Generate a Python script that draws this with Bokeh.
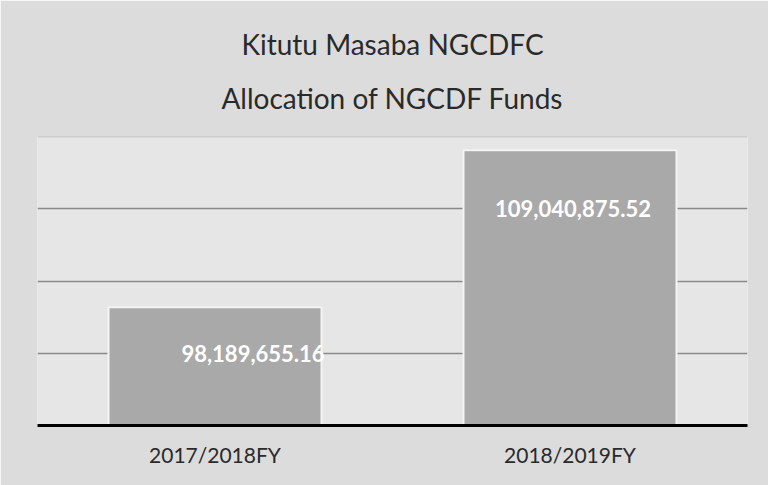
from bokeh.plotting import figure
from bokeh.models import ColumnDataSource, Title, Range1d, FixedTicker, LabelSet, Span
from bokeh.core.properties import value
from bokeh.embed import file_html
from bokeh.resources import INLINE

categories = ["2017/2018FY", "2018/2019FY"]
values = [98189655.16, 109040875.52]
labels = ["98,189,655.16", "109,040,875.52"]
y_ticks = [90000000, 95000000, 100000000, 105000000, 110000000]
title_lines = ["Kitutu Masaba NGCDFC", "Allocation of NGCDF Funds"]

# label placement (style): anchor at a gridline value, nudged horizontally
label_y = [y_ticks[1], y_ticks[3]]
label_dx = [38, 3]

src = ColumnDataSource(dict(cat=categories, val=values, lab=labels,
                            ly=label_y, dx=label_dx))

p = figure(width=768, height=485, x_range=categories,
           y_range=Range1d(y_ticks[0], y_ticks[-1]),
           output_backend="svg", toolbar_location=None,
           min_border_left=37, min_border_right=21, min_border_top=136,
           min_border_bottom=60)

p.border_fill_color = "#dcdcdc"
p.background_fill_color = "#e6e6e6"
p.outline_line_color = None

p.title.visible = False
title_style = dict(align="center", text_font="Lato", text_font_size="28px",
                   text_font_style="normal", text_color="#2a2a2a",
                   text_line_height=1.0)
t2 = Title(text=title_lines[1], standoff=40, vertical_align="top", **title_style)
t1 = Title(text=title_lines[0], standoff=0, **title_style)
p.add_layout(t2, "above")
p.add_layout(t1, "above")

# faint top gridline at the range maximum
p.add_layout(Span(location=y_ticks[-1], dimension="width",
                  line_color="#b4b4b4", line_width=1.5))

p.vbar(x="cat", top="val", bottom=y_ticks[0], width=0.6, source=src,
       fill_color="#a9a9a9", line_color="#f4f4f4", line_width=2)

lbl = LabelSet(x="cat", y="ly", text="lab", source=src, x_offset="dx",
               text_align="center", text_baseline="middle",
               text_color="white", text_font=value("Lato"),
               text_font_style="bold", text_font_size="22px")
p.add_layout(lbl)

p.yaxis.visible = False
p.ygrid.ticker = FixedTicker(ticks=y_ticks[:-1])
p.ygrid.grid_line_color = "#8a8a8a"
p.ygrid.grid_line_width = 1.5
p.xgrid.grid_line_color = None

p.xaxis.axis_line_color = "black"
p.xaxis.axis_line_width = 3
p.xaxis.major_tick_line_color = None
p.xaxis.minor_tick_line_color = None
p.xaxis.major_label_text_font = "Lato"
p.xaxis.major_label_text_font_size = "21px"
p.xaxis.major_label_text_color = "#2a2a2a"
p.xaxis.major_label_standoff = 10
p.x_range.range_padding = 0

open("out.html", "w").write(file_html(p, INLINE))
